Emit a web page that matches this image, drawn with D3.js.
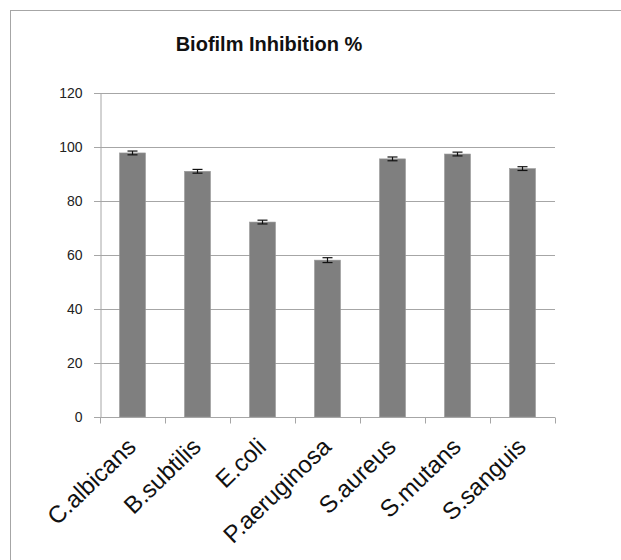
<!DOCTYPE html>
<html><head><meta charset="utf-8">
<script src="https://cdn.jsdelivr.net/npm/d3@7"></script>
<style>body{margin:0;background:#fff}svg{display:block}</style>
</head><body>
<script>
const categories = ["C.albicans","B.subtilis","E.coli","P.aeruginosa","S.aureus","S.mutans","S.sanguis"];
const values = [97.8, 91.0, 72.2, 58.1, 95.6, 97.4, 92.0];
const errors = [0.7, 0.7, 0.7, 0.9, 0.7, 0.7, 0.7];
const yTicks = [0,20,40,60,80,100,120];
const title = "Biofilm Inhibition %";

const W = 621, H = 560;
const svg = d3.select("body").append("svg").attr("width", W).attr("height", H);
svg.append("rect").attr("x",10.5).attr("y",10.5).attr("width",W+10).attr("height",H+10)
  .attr("fill","#fff").attr("stroke","#a6a6a6").attr("stroke-width",1);

const m = {left:100, right:555, top:93, bottom:417};
const x = d3.scaleBand().domain(categories).range([m.left, m.right]).paddingInner(0.6).paddingOuter(0.3);
const xb = d3.scaleBand().domain(categories).range([m.left, m.right]);
const y = d3.scaleLinear().domain([0,120]).range([m.bottom, m.top]);

// gridlines
svg.append("g").selectAll("line").data(yTicks).join("line")
  .attr("x1", m.left-6).attr("x2", m.right).attr("y1", d=>y(d)+0.5).attr("y2", d=>y(d)+0.5)
  .attr("stroke","#a6a6a6").attr("stroke-width",1);

// y axis
const ya = svg.append("g").attr("transform",`translate(${m.left+0.5},0)`)
  .call(d3.axisLeft(y).tickValues(yTicks).tickSize(0).tickPadding(18));
ya.select(".domain").attr("stroke","#a6a6a6");
ya.selectAll("text").attr("font-family","Liberation Sans, Arial, sans-serif").attr("font-size",14).attr("fill","#222");

// bars
svg.append("g").selectAll("rect").data(categories).join("rect")
  .attr("x", d=>x(d)).attr("width", x.bandwidth())
  .attr("y", (d,i)=>y(values[i])).attr("height", (d,i)=>y(0)-y(values[i]))
  .attr("fill","#7f7f7f").attr("stroke","#9a9a9a").attr("stroke-width",0.6);

// error bars
const eg = svg.append("g").attr("stroke","#111").attr("stroke-width",1.2);
categories.forEach((c,i)=>{
  const cx = x(c)+x.bandwidth()/2;
  const y1 = y(values[i]+errors[i]), y2 = y(values[i]-errors[i]);
  eg.append("line").attr("x1",cx).attr("x2",cx).attr("y1",y1).attr("y2",y2);
  eg.append("line").attr("x1",cx-5).attr("x2",cx+5).attr("y1",y1).attr("y2",y1);
  eg.append("line").attr("x1",cx-5).attr("x2",cx+5).attr("y1",y2).attr("y2",y2);
});

// x axis
const xa = svg.append("g").attr("transform",`translate(0,${m.bottom+0.5})`);
xa.append("line").attr("x1",m.left).attr("x2",m.right).attr("stroke","#a6a6a6");
const tickPos = categories.map(c=>xb(c)).concat([m.right]);
xa.selectAll("line.t").data(tickPos).join("line").attr("class","t")
  .attr("x1",d=>d+0.5).attr("x2",d=>d+0.5).attr("y1",0).attr("y2",6).attr("stroke","#a6a6a6");
xa.selectAll("text").data(categories).join("text")
  .attr("transform", d=>`translate(${xb(d)+xb.bandwidth()/2+5},${31}) rotate(-44)`)
  .attr("text-anchor","end")
  .attr("font-family","Liberation Sans, Arial, sans-serif").attr("font-size",24).attr("fill","#111")
  .text(d=>d);

// title
svg.append("text").attr("x",269).attr("y",51).attr("text-anchor","middle")
  .attr("font-family","Liberation Sans, Arial, sans-serif").attr("font-weight","bold").attr("font-size",20)
  .attr("fill","#111").text(title);
</script>
</body></html>
